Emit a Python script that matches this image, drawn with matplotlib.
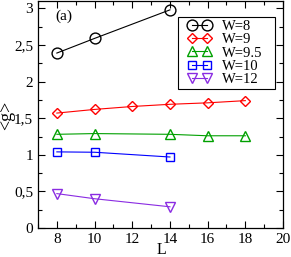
import matplotlib
matplotlib.use('Agg')
import matplotlib.pyplot as plt
from matplotlib.legend_handler import HandlerLine2D
from matplotlib.ticker import MultipleLocator, FuncFormatter

plt.rcParams['font.family'] = ['Liberation Serif', 'DejaVu Serif']

# data
L8 = [8, 10, 14]
g8 = [2.39, 2.59, 2.98]
L9 = [8, 10, 12, 14, 16, 18]
g9 = [1.57, 1.62, 1.66, 1.69, 1.71, 1.74]
L95 = [8, 10, 14, 16, 18]
g95 = [1.28, 1.29, 1.28, 1.26, 1.26]
L10 = [8, 10, 14]
g10 = [1.04, 1.035, 0.97]
L12 = [8, 10, 14]
g12 = [0.47, 0.40, 0.29]

series = [
    (L8, g8, 'W=8', 'black', 'o'),
    (L9, g9, 'W=9', '#ff0000', 'D'),
    (L95, g95, 'W=9.5', '#00a000', '^'),
    (L10, g10, 'W=10', '#0000ff', 's'),
    (L12, g12, 'W=12', '#8a2be2', 'v'),
]
sizes = {'o': 7.8, 'D': 5.4, '^': 7.6, 's': 6.2, 'v': 7.6}

fig = plt.figure(figsize=(2.91, 2.57), dpi=100)
ax = fig.add_axes([0.1306, 0.1128, 0.842, 0.883])

for x, y, lab, c, m in series:
    ax.plot(x, y, color=c, marker=m, ms=sizes[m], mfc='none', mec=c,
            mew=1.0, lw=0.8, label=lab)

ax.set_xlim(7, 20)
ax.set_ylim(0, 3.1)
ax.xaxis.set_major_locator(MultipleLocator(2))
ax.xaxis.set_minor_locator(MultipleLocator(1))
ax.yaxis.set_major_locator(MultipleLocator(0.5))
ax.yaxis.set_minor_locator(MultipleLocator(0.25))
ax.set_xticks([8, 10, 12, 14, 16, 18, 20])
ax.yaxis.set_major_formatter(FuncFormatter(lambda v, p: ('%g' % v).replace('.', ',')))
ax.tick_params(which='both', direction='in', top=True, right=True, labelsize=11)
ax.tick_params(which='major', length=5, width=0.8)
ax.tick_params(which='minor', length=3, width=0.8)
for s in ax.spines.values():
    s.set_linewidth(0.9)

fig.text(161 / 291, 1 - 249.5 / 257, 'L', fontsize=11.5, ha='center', va='center')
fig.text(7 / 291, 1 - 115 / 257, '<g>', fontsize=13,
         rotation=90, ha='center', va='center')
ax.text(0.07, 0.965, '(a)', transform=ax.transAxes, fontsize=11, va='top')

leg = ax.legend(loc='upper left', bbox_to_anchor=(0.571, 0.0, 0.396, 0.93),
                mode='expand', numpoints=2,
                handler_map={plt.Line2D: HandlerLine2D(marker_pad=0.8)},
                fontsize=10.5, fancybox=False, edgecolor='black', framealpha=1,
                handlelength=2.58, labelspacing=0.0, borderpad=0.2,
                handletextpad=0.27, borderaxespad=0)
leg.get_frame().set_linewidth(0.8)

fig.savefig('out.png', dpi=100)
